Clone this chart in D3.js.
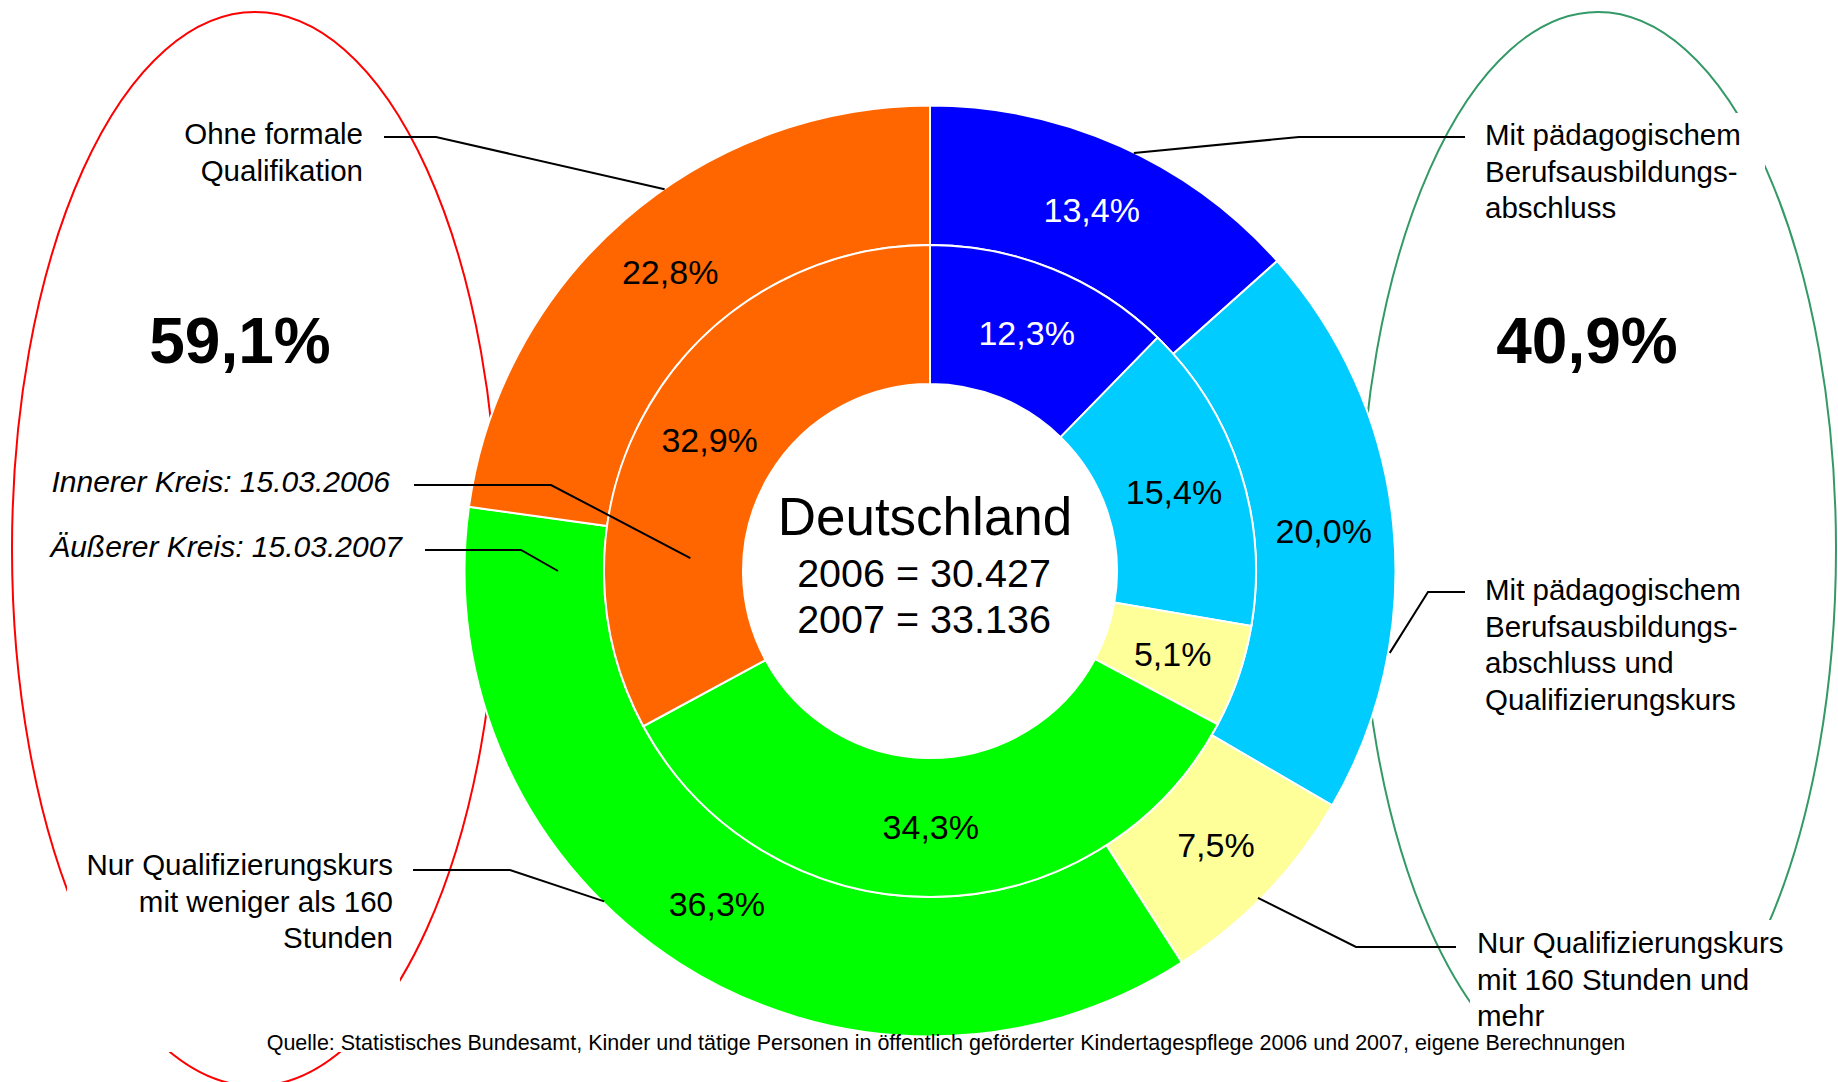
<!doctype html>
<meta charset="utf-8">
<style>
  body { margin: 0; background: #fff; }
  text { font-family: "Liberation Sans", Arial, sans-serif; }
</style>
<script src="https://d3js.org/d3.v7.min.js"></script>
<body>
<svg id="chart"></svg>
<script>
// categories, clockwise from 12 o'clock
var categories = [
  "Mit pädagogischem Berufsausbildungsabschluss",
  "Mit pädagogischem Berufsausbildungsabschluss und Qualifizierungskurs",
  "Nur Qualifizierungskurs mit 160 Stunden und mehr",
  "Nur Qualifizierungskurs mit weniger als 160 Stunden",
  "Ohne formale Qualifikation"
];
var colors = ["#0000ff", "#00ccff", "#ffff99", "#00ff00", "#ff6600"];
var values2006 = [12.3, 15.4, 5.1, 34.3, 32.9];   // inner ring
var values2007 = [13.4, 20.0, 7.5, 36.3, 22.8];   // outer ring
var totals = [["2006", "30.427"], ["2007", "33.136"]];
var groupShares = ["59,1%", "40,9%"];

var width = 1838, height = 1082;
var cx = 930, cy = 571;
var r0 = 187, r1 = 326, r2 = 465.5;

var svg = d3.select("#chart").attr("width", width).attr("height", height);

var fmt = function(v) { return v.toFixed(1).replace(".", ",") + "%"; };

// the two group ellipses
svg.append("ellipse").attr("cx", 255).attr("cy", 549).attr("rx", 243).attr("ry", 537)
  .attr("fill", "none").attr("stroke", "#ff0000").attr("stroke-width", 2);
svg.append("ellipse").attr("cx", 1598).attr("cy", 549).attr("rx", 238).attr("ry", 537)
  .attr("fill", "none").attr("stroke", "#339966").attr("stroke-width", 2);

// white text boxes of the labels hide parts of the ellipses
var boxes = [[67, 845, 333, 207], [1475, 113, 290, 140], [1470, 920, 368, 162]];
svg.selectAll("rect.box").data(boxes).enter().append("rect")
  .attr("class", "box")
  .attr("x", function(d){ return d[0]; }).attr("y", function(d){ return d[1]; })
  .attr("width", function(d){ return d[2]; }).attr("height", function(d){ return d[3]; })
  .attr("fill", "#fff");

var pie = d3.pie().sort(null).value(function(d){ return d; });
var g = svg.append("g").attr("transform", "translate(" + cx + "," + cy + ")");

var rings = [
  { values: values2007, inner: r1, outer: r2 },
  { values: values2006, inner: r0, outer: r1 }
];

rings.forEach(function(ring) {
  var arc = d3.arc().innerRadius(ring.inner).outerRadius(ring.outer);
  var labelArc = d3.arc().innerRadius((ring.inner + ring.outer) / 2).outerRadius((ring.inner + ring.outer) / 2);
  var arcs = pie(ring.values);
  g.append("g").selectAll("path").data(arcs).enter().append("path")
    .attr("d", arc)
    .attr("fill", function(d, i){ return colors[i]; })
    .attr("stroke", "#fff").attr("stroke-width", 2);
  g.append("g").selectAll("text").data(arcs).enter().append("text")
    .attr("transform", function(d){ return "translate(" + labelArc.centroid(d) + ")"; })
    .attr("text-anchor", "middle").attr("dy", "0.35em")
    .style("font-size", "34px")
    .attr("fill", function(d, i){ return i === 0 ? "#fff" : "#000"; })
    .text(function(d){ return fmt(d.data); });
});

// leader lines: start, elbow, then a point on the ring given by angle (deg) and radius
var leaders = [
  [384, 137, 436, 137, 325.2, 465],
  [414, 485, 551, 485, 273.1, 240],
  [425, 550, 521, 550, 270, 372],
  [413, 870, 510, 870, 224.6, 464],
  [1465, 137, 1299, 137, 26, 465],
  [1465, 592, 1428, 592, 100.1, 467],
  [1456, 947, 1356, 947, 134.9, 463]
];
svg.selectAll("path.leader").data(leaders).enter().append("path")
  .attr("class", "leader")
  .attr("d", function(d){
    var a = d[4] * Math.PI / 180;
    var ex = cx + d[5] * Math.sin(a), ey = cy - d[5] * Math.cos(a);
    return d3.line()([[d[0], d[1]], [d[2], d[3]], [ex, ey]]);
  })
  .attr("fill", "none").attr("stroke", "#000").attr("stroke-width", 2);

// category labels
var labels = [
  { lines: ["Ohne formale", "Qualifikation"], x: 363, y: 144, anchor: "end" },
  { lines: ["Innerer Kreis: 15.03.2006"], x: 390, y: 492, anchor: "end", italic: true },
  { lines: ["Äußerer Kreis: 15.03.2007"], x: 402, y: 557, anchor: "end", italic: true },
  { lines: ["Nur Qualifizierungskurs", "mit weniger als 160", "Stunden"], x: 393, y: 875, anchor: "end" },
  { lines: ["Mit pädagogischem", "Berufsausbildungs-", "abschluss"], x: 1485, y: 145, anchor: "start" },
  { lines: ["Mit pädagogischem", "Berufsausbildungs-", "abschluss und", "Qualifizierungskurs"], x: 1485, y: 600, anchor: "start" },
  { lines: ["Nur Qualifizierungskurs", "mit 160 Stunden und", "mehr"], x: 1477, y: 953, anchor: "start" }
];
labels.forEach(function(l) {
  var t = svg.append("text")
    .attr("x", l.x).attr("y", l.y)
    .attr("text-anchor", l.anchor)
    .style("font-size", l.italic ? "30px" : "29.5px")
    .style("font-style", l.italic ? "italic" : "normal");
  t.selectAll("tspan").data(l.lines).enter().append("tspan")
    .attr("x", l.x).attr("dy", function(d, i){ return i === 0 ? 0 : 36.5; })
    .text(function(d){ return d; });
});

// group shares
svg.append("text").attr("x", 240).attr("y", 363).attr("text-anchor", "middle")
  .style("font-size", "64px").style("font-weight", "bold").text(groupShares[0]);
svg.append("text").attr("x", 1587).attr("y", 363).attr("text-anchor", "middle")
  .style("font-size", "64px").style("font-weight", "bold").text(groupShares[1]);

// centre text
svg.append("text").attr("x", cx - 5).attr("y", 535).attr("text-anchor", "middle")
  .style("font-size", "53px").text("Deutschland");
svg.selectAll("text.total").data(totals).enter().append("text")
  .attr("class", "total")
  .attr("x", cx - 6).attr("y", function(d, i){ return 587 + i * 46; })
  .attr("text-anchor", "middle").style("font-size", "39.5px")
  .text(function(d){ return d[0] + " = " + d[1]; });

// source
svg.append("text").attr("x", 946).attr("y", 1050).attr("text-anchor", "middle")
  .style("font-size", "21.5px")
  .text("Quelle: Statistisches Bundesamt, Kinder und tätige Personen in öffentlich geförderter Kindertagespflege 2006 und 2007, eigene Berechnungen");
</script>
</body>
